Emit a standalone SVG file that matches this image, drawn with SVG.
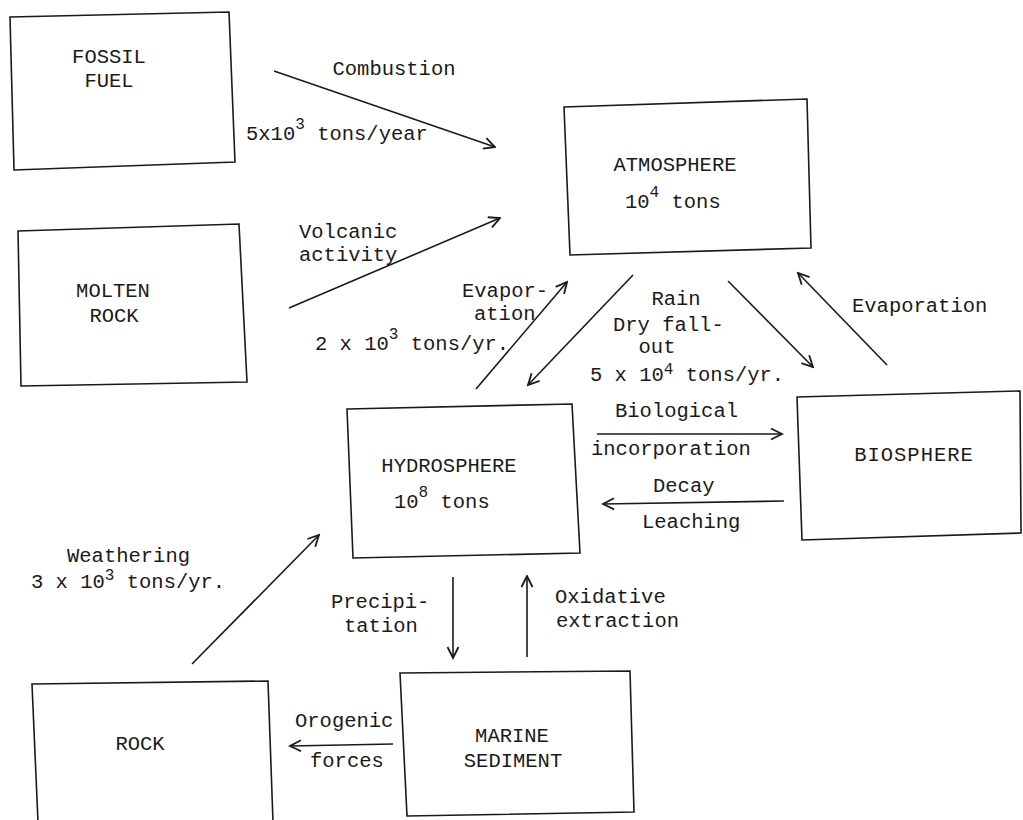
<svg xmlns="http://www.w3.org/2000/svg" width="1023" height="820" viewBox="0 0 1023 820">
<style>
.box{fill:none;stroke:#1a1a1a;stroke-width:1.6;stroke-linejoin:miter}
.ln{fill:none;stroke:#1a1a1a;stroke-width:1.6;marker-end:url(#ah)}
text{font-family:"Liberation Mono","DejaVu Sans Mono",monospace;font-size:20.5px;fill:#1a1a1a}
.c{text-anchor:middle}
.sup{font-size:16px}
</style>
<defs>
<marker id="ah" viewBox="0 0 14 14" refX="12.5" refY="7" markerWidth="14" markerHeight="14" orient="auto" markerUnits="userSpaceOnUse">
<path d="M1.5,1.5 L12.5,7 L1.5,12.5" fill="none" stroke="#1a1a1a" stroke-width="1.8"/>
</marker>
</defs>
<rect width="1023" height="820" fill="#fff"/>

<g id="fossil-fuel">
<polygon class="box" points="10,17 229,12 235,162 14,170"/>
<text class="c" x="109" y="63">FOSSIL</text>
<text class="c" x="109" y="87">FUEL</text>
</g>

<g id="molten-rock">
<polygon class="box" points="18,231 239,224 247,382 21,386"/>
<text class="c" x="113" y="297">MOLTEN</text>
<text class="c" x="114" y="322">ROCK</text>
</g>

<g id="atmosphere">
<polygon class="box" points="564,107 807,99 811,248 570,255"/>
<text class="c" x="675" y="171">ATMOSPHERE</text>
<text x="625" y="208">10<tspan class="sup" dy="-11">4</tspan><tspan dy="11"> tons</tspan></text>
</g>

<g id="hydrosphere">
<polygon class="box" points="347,409 572,404 580,553 353,558"/>
<text class="c" x="449" y="472">HYDROSPHERE</text>
<text x="394" y="508">10<tspan class="sup" dy="-11">8</tspan><tspan dy="11"> tons</tspan></text>
</g>

<g id="biosphere">
<polygon class="box" points="797,397 1020,391 1021,533 802,540"/>
<text class="c" x="914" y="461" letter-spacing="1">BIOSPHERE</text>
</g>

<g id="rock">
<polygon class="box" points="32,684 268,681 273,822 38,822"/>
<text class="c" x="140" y="750">ROCK</text>
</g>

<g id="marine-sediment">
<polygon class="box" points="400,673 630,671 634,812 407,816"/>
<text class="c" x="512" y="742">MARINE</text>
<text class="c" x="513" y="767">SEDIMENT</text>
</g>

<g id="connectors">
<line class="ln" x1="274" y1="71" x2="495" y2="147"/>
<line class="ln" x1="289" y1="308" x2="500" y2="218"/>
<line class="ln" x1="476" y1="389" x2="567" y2="282"/>
<line class="ln" x1="633" y1="275" x2="528" y2="385"/>
<line class="ln" x1="728" y1="281" x2="813" y2="367"/>
<line class="ln" x1="887" y1="365" x2="798" y2="273"/>
<line class="ln" x1="597" y1="434" x2="782" y2="434"/>
<line class="ln" x1="784" y1="501" x2="603" y2="504"/>
<line class="ln" x1="453" y1="577" x2="453" y2="658"/>
<line class="ln" x1="527" y1="657" x2="527" y2="576"/>
<line class="ln" x1="393" y1="744" x2="290" y2="746"/>
<line class="ln" x1="192" y1="664" x2="319" y2="535"/>
</g>

<g id="labels">
<text class="c" x="394" y="75">Combustion</text>
<text x="246" y="140">5x10<tspan class="sup" dy="-11">3</tspan><tspan dy="11"> tons/year</tspan></text>
<text x="299" y="238">Volcanic</text>
<text x="299" y="261">activity</text>
<text x="315" y="350">2 x 10<tspan class="sup" dy="-11">3</tspan><tspan dy="11"> tons/yr.</tspan></text>
<text x="462" y="297">Evapor-</text>
<text x="474" y="320">ation</text>
<text class="c" x="676" y="305">Rain</text>
<text x="613" y="331">Dry fall-</text>
<text class="c" x="657" y="353">out</text>
<text x="590" y="381">5 x 10<tspan class="sup" dy="-7">4</tspan><tspan dy="7"> tons/yr.</tspan></text>
<text x="852" y="312">Evaporation</text>
<text x="615" y="417">Biological</text>
<text x="591" y="455">incorporation</text>
<text x="653" y="492">Decay</text>
<text x="642" y="528">Leaching</text>
<text x="67" y="562">Weathering</text>
<text x="31" y="588">3 x 10<tspan class="sup" dy="-8">3</tspan><tspan dy="8"> tons/yr.</tspan></text>
<text x="331" y="608">Precipi-</text>
<text x="344" y="632">tation</text>
<text x="555" y="603">Oxidative</text>
<text x="556" y="627">extraction</text>
<text x="295" y="727">Orogenic</text>
<text x="310" y="767">forces</text>
</g>
</svg>
